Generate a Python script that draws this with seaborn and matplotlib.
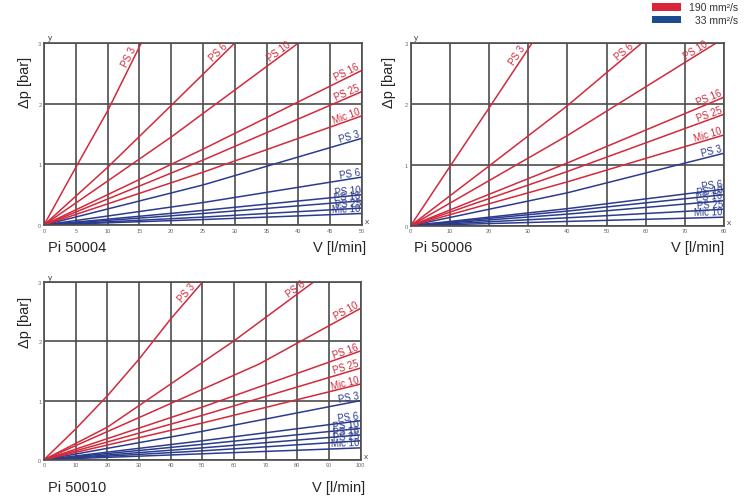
import numpy as np
import pandas as pd
import seaborn as sns
from matplotlib import pyplot as plt
from matplotlib.patches import Rectangle

# filter elements, same order for both viscosities
elements = ['PS 3', 'PS 6', 'PS 10', 'PS 16', 'PS 25', 'Mic 10']
visc_hi = '190 mm²/s'
visc_lo = '33 mm²/s'

# Pi 50004  (V in l/min, dp in bar)
p04_hi_v = [[0, 5, 10, 15.3], [0, 10, 20, 30], [0, 20, 40], [0, 25, 50], [0, 25, 50], [0, 25, 50]]
p04_hi_dp = [[0, 0.95, 1.88, 3.0], [0, 0.95, 1.97, 3.0], [0, 1.45, 3.0], [0, 1.25, 2.55], [0, 1.07, 2.2], [0, 0.87, 1.8]]
p04_lo_v = [[0, 25, 50]] * 6
p04_lo_dp = [[0, 0.66, 1.43], [0, 0.37, 0.79], [0, 0.24, 0.5], [0, 0.19, 0.4], [0, 0.13, 0.28], [0, 0.09, 0.19]]

# Pi 50006
p06_hi_v = [[0, 10, 20.7, 31], [0, 20, 40, 59], [0, 40, 78], [0, 40, 80], [0, 40, 80], [0, 40, 80]]
p06_hi_dp = [[0, 0.97, 2.0, 3.0], [0, 0.98, 1.97, 3.0], [0, 1.48, 3.0], [0, 1.03, 2.11], [0, 0.89, 1.83], [0, 0.72, 1.49]]
p06_lo_v = [[0, 40, 80]] * 6
p06_lo_dp = [[0, 0.54, 1.19], [0, 0.28, 0.6], [0, 0.24, 0.51], [0, 0.19, 0.41], [0, 0.13, 0.27], [0, 0.07, 0.14]]

# Pi 50010
p10_hi_v = [[0, 10, 20, 30, 40, 50], [0, 20, 40, 60, 85], [0, 40, 68, 100], [0, 50, 100], [0, 50, 100], [0, 50, 100]]
p10_hi_dp = [[0, 0.52, 1.08, 1.70, 2.38, 3.0], [0, 0.55, 1.28, 2.01, 3.0], [0, 0.95, 1.62, 2.56], [0, 0.89, 1.84], [0, 0.75, 1.55], [0, 0.62, 1.28]]
p10_lo_v = [[0, 50, 100]] * 6
p10_lo_dp = [[0, 0.48, 1.0], [0, 0.32, 0.66], [0, 0.26, 0.53], [0, 0.2, 0.42], [0, 0.15, 0.32], [0, 0.1, 0.2]]

red = '#d12a3c'
blue = '#2b3c8e'
pal = {visc_hi: red, visc_lo: blue}
grid_c = '#4d4d4d'

W, H = 750, 502

sns.set_theme(style='white')
plt.rcParams['font.family'] = ['Liberation Sans', 'DejaVu Sans']


def px(x, y):
    return x / W, 1 - y / H


def make_df(hi_v, hi_dp, lo_v, lo_dp):
    rows = []
    for visc, vs, dps in [(visc_lo, lo_v, lo_dp), (visc_hi, hi_v, hi_dp)]:
        for el, v, dp in zip(elements, vs, dps):
            for a, b in zip(v, dp):
                rows.append({'visc': visc, 'element': el, 'V': a, 'dp': b})
    return pd.DataFrame(rows)


def label_lines(ax, df):
    for (visc, el), g in df.groupby(['visc', 'element'], sort=False):
        p0 = ax.transData.transform((g['V'].iloc[-2], g['dp'].iloc[-2]))
        p1 = ax.transData.transform((g['V'].iloc[-1], g['dp'].iloc[-1]))
        d = p1 - p0
        d = d / np.hypot(*d)
        ang = np.degrees(np.arctan2(d[1], d[0]))
        back = 8 if g['dp'].iloc[-1] >= 2.99 else 1
        pos = ax.transData.inverted().transform(p1 - d * back)
        ax.text(pos[0], pos[1] + 0.01, el, color=pal[visc], fontsize=7, rotation=ang,
                rotation_mode='anchor', ha='right', va='bottom')


def panel(rect, df, xmax, step, name, ylab_xy, name_xy, vlab_xy):
    ax = fig.add_axes(rect)
    sns.lineplot(data=df, x='V', y='dp', hue='visc', units='element', estimator=None,
                 hue_order=[visc_lo, visc_hi], palette=pal, legend=False, sort=False,
                 lw=1.1, ax=ax)
    ax.set_xlim(0, xmax)
    ax.set_ylim(0, 3)
    ax.set_xticks(np.arange(0, xmax + 1, step))
    ax.set_yticks([0, 1, 2, 3])
    ax.grid(True, color=grid_c, lw=1.2)
    ax.set_axisbelow(True)
    ax.tick_params(labelsize=4, colors='#666666', length=0, pad=2)
    for s in ax.spines.values():
        s.set_color(grid_c)
        s.set_linewidth(1.2)
    ax.set(xlabel=None, ylabel=None)
    label_lines(ax, df)
    # axis letters
    ax.text(0.012, 1.01, 'y', transform=ax.transAxes, fontsize=6, color='#444444', va='bottom')
    ax.text(1.01, 0.0, 'x', transform=ax.transAxes, fontsize=6, color='#444444', va='bottom')
    fig.text(*px(*ylab_xy), 'Δp [bar]', rotation=90, fontsize=10.5, ha='center', va='center')
    fig.text(*px(*name_xy), name, fontsize=10.5, ha='left', va='center')
    fig.text(*px(*vlab_xy), 'V [l/min]', fontsize=10.5, ha='right', va='center')
    return ax


fig = plt.figure(figsize=(7.5, 5.02), dpi=100)

df04 = make_df(p04_hi_v, p04_hi_dp, p04_lo_v, p04_lo_dp)
df06 = make_df(p06_hi_v, p06_hi_dp, p06_lo_v, p06_lo_dp)
df10 = make_df(p10_hi_v, p10_hi_dp, p10_lo_v, p10_lo_dp)

panel([44 / W, 1 - 226 / H, 318 / W, 182 / H], df04, 50, 5, 'Pi 50004',
      (25, 82), (48, 248), (366, 248))
panel([410.7 / W, 1 - 226.7 / H, 313.3 / W, 182.7 / H], df06, 80, 10, 'Pi 50006',
      (389, 82), (414, 248), (724, 248))
panel([44 / W, 1 - 460.7 / H, 316.7 / W, 177.4 / H], df10, 100, 10, 'Pi 50010',
      (25, 322), (48, 488), (365, 488))

# colour key, top right
fig.add_artist(Rectangle(px(652, 11.7), 29 / W, 7.7 / H, transform=fig.transFigure,
                         color='#d8253a', lw=0))
fig.add_artist(Rectangle(px(652, 24.3), 29 / W, 7.7 / H, transform=fig.transFigure,
                         color='#1c4b8f', lw=0))
fig.text(*px(738, 8), visc_hi, fontsize=7.5, ha='right', va='center', color='#333333')
fig.text(*px(738, 20.5), visc_lo, fontsize=7.5, ha='right', va='center', color='#333333')

fig.savefig('out.png', dpi=100)
